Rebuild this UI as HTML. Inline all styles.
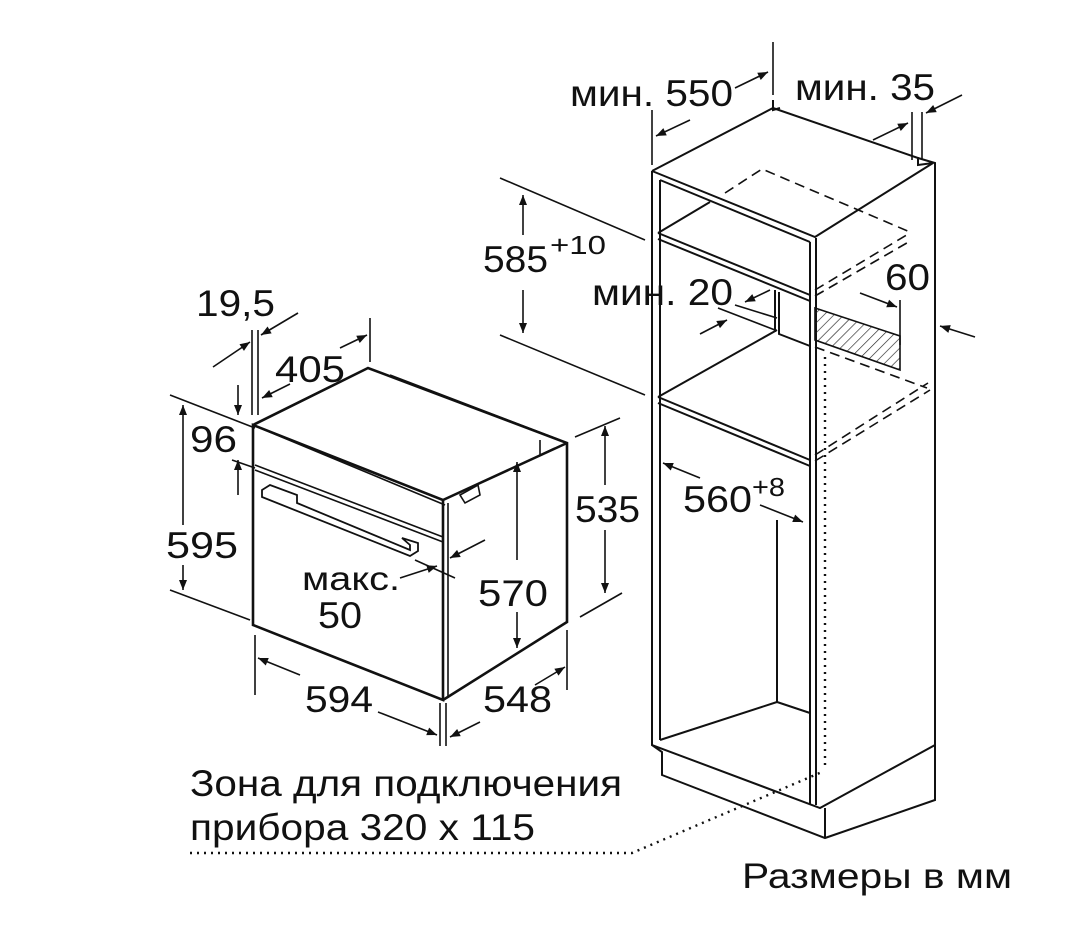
<!DOCTYPE html>
<html><head><meta charset="utf-8"><style>
html,body{margin:0;padding:0;background:#fff}
svg{display:block}
text{font-family:"Liberation Sans",sans-serif;fill:#111}
</style></head><body>
<svg width="1089" height="937" viewBox="0 0 1089 937" xmlns="http://www.w3.org/2000/svg">
<defs>
<marker id="a" viewBox="0 0 10 10" refX="10" refY="5" markerWidth="12" markerHeight="10" markerUnits="userSpaceOnUse" orient="auto"><path d="M0,1 L10,5 L0,9 z" fill="#111"/></marker>
<pattern id="h" width="7" height="7" patternUnits="userSpaceOnUse" patternTransform="rotate(45)"><line x1="0" y1="0" x2="0" y2="7" stroke="#222" stroke-width="1.3"/></pattern>
</defs>
<g stroke="#111" fill="none" stroke-width="1.6">
<g stroke-width="2.6">
<path d="M253,425 L443,500 L443,700 L253,625 Z"/>
<path d="M253,425 L368,368 L567,443 L567,622 L443,700"/>
<path d="M443,500 L567,443"/>
</g>
<path d="M260,428 L445,505"/>
<path d="M255,465 L443,537"/>
<path d="M255,470 L443,542"/>
<path d="M448,503 L448,698"/>
<path d="M390,375 L560,440"/>
<path d="M540,440 L540,455 L555,448"/>
<path d="M262,490 L270,485 L297,495 L297,503 L410,550 L410,545 L402,538 L418,543 L418,551 L410,556 L262,497 Z" stroke-width="1.8"/>
<path d="M460,495 L478,485 L480,495 L465,503 Z"/>
<path d="M170,395 L255,428"/><path d="M170,590 L250,620"/>
<path d="M183,525 L183,405" marker-end="url(#a)"/><path d="M183,565 L183,590" marker-end="url(#a)"/>
<path d="M238,385 L238,415" marker-end="url(#a)"/><path d="M238,495 L238,460" marker-end="url(#a)"/>
<path d="M232,460 L255,468"/>
<path d="M252,330 L252,415"/><path d="M258,330 L258,415"/>
<path d="M213,367 L250,342" marker-end="url(#a)"/><path d="M298,313 L261,335" marker-end="url(#a)"/>
<path d="M370,318 L370,362"/>
<path d="M340,348 L367,335" marker-end="url(#a)"/><path d="M290,384 L262,398" marker-end="url(#a)"/>
<path d="M575,437 L620,418"/><path d="M580,617 L622,593"/>
<path d="M605,485 L605,426" marker-end="url(#a)"/><path d="M605,530 L605,593" marker-end="url(#a)"/>
<path d="M517,560 L517,462" marker-end="url(#a)"/><path d="M517,612 L517,648" marker-end="url(#a)"/>
<path d="M255,635 L255,695"/><path d="M567,630 L567,690"/>
<path d="M440,703 L440,746"/><path d="M446,703 L446,746"/>
<path d="M300,675 L258,658" marker-end="url(#a)"/><path d="M378,712 L437,735" marker-end="url(#a)"/>
<path d="M535,685 L565,667" marker-end="url(#a)"/><path d="M480,722 L450,737" marker-end="url(#a)"/>
<path d="M485,540 L450,558" marker-end="url(#a)"/>
<path d="M415,560 L455,578"/>
<path d="M400,578 L437,566" marker-end="url(#a)"/>
<g stroke-width="2">
<path d="M652,171 L652,745 L820,808 L935,745 L935,163 L918,158"/>
<path d="M660,180 L660,740"/>
<path d="M652,171 L773,108 L918,158 L918,165 L933,163"/>
<path d="M652,171 L815,237 L933,163"/>
<path d="M660,180 L810,242"/>
<path d="M810,242 L810,805"/><path d="M816,238 L816,805"/>
<path d="M773,100 L773,110 L780,108"/>
<path d="M658,233 L810,295"/><path d="M658,239 L810,301"/>
<path d="M658,233 L710,202"/>
<path d="M658,397 L810,460"/><path d="M658,403 L810,466"/>
<path d="M658,397 L777,330"/>
<path d="M775,290 L775,332"/><path d="M779,292 L779,334 L810,346"/>
<path d="M777,520 L777,702 L810,713"/>
<path d="M660,740 L777,702"/>
<path d="M652,745 L662,752 L662,775 L825,838 L935,800 L935,745"/>
<path d="M825,808 L825,838"/>
</g>
<path d="M725,193 L762,169 L910,232" stroke-dasharray="10,6"/>
<path d="M815,290 L910,233" stroke-dasharray="10,6"/>
<path d="M815,296 L912,240" stroke-dasharray="10,6"/>
<path d="M815,347 L927,388" stroke-dasharray="10,6"/>
<path d="M815,455 L928,383" stroke-dasharray="10,6"/>
<path d="M815,461 L930,390" stroke-dasharray="10,6"/>
<path d="M815,308 L900,336 L900,370 L815,340 Z" fill="url(#h)"/>
<path d="M825,357 L825,770" stroke-dasharray="2,5" stroke-width="2.4"/>
<path d="M190,853 L632,853 L822,772" stroke-dasharray="2,5" stroke-width="2.4"/>
<path d="M773,42 L773,95"/><path d="M652,110 L652,165"/>
<path d="M735,88 L768,72" marker-end="url(#a)"/><path d="M690,120 L656,136" marker-end="url(#a)"/>
<path d="M912,112 L912,160"/><path d="M922,112 L922,160"/>
<path d="M873,140 L908,123" marker-end="url(#a)"/><path d="M962,95 L926,113" marker-end="url(#a)"/>
<path d="M500,178 L645,240"/><path d="M500,335 L645,395"/>
<path d="M523,235 L523,195" marker-end="url(#a)"/><path d="M523,290 L523,333" marker-end="url(#a)"/>
<path d="M735,305 L777,318"/><path d="M718,308 L775,330"/>
<path d="M770,290 L745,302" marker-end="url(#a)"/><path d="M700,334 L727,320" marker-end="url(#a)"/>
<path d="M860,293 L897,307" marker-end="url(#a)"/><path d="M900,300 L900,345"/>
<path d="M975,337 L940,326" marker-end="url(#a)"/>
<path d="M700,478 L663,463" marker-end="url(#a)"/><path d="M760,505 L803,522" marker-end="url(#a)"/>
</g>
<g font-size="37" lengthAdjust="spacingAndGlyphs">
<text x="196" y="316" textLength="79" lengthAdjust="spacingAndGlyphs">19,5</text>
<text x="275" y="382" textLength="70" lengthAdjust="spacingAndGlyphs">405</text>
<text x="190" y="452" textLength="47" lengthAdjust="spacingAndGlyphs">96</text>
<text x="166" y="558" textLength="72" lengthAdjust="spacingAndGlyphs">595</text>
<text x="302" y="590" font-size="33" textLength="98" lengthAdjust="spacingAndGlyphs">макс.</text>
<text x="318" y="628" textLength="44" lengthAdjust="spacingAndGlyphs">50</text>
<text x="478" y="606" textLength="70" lengthAdjust="spacingAndGlyphs">570</text>
<text x="575" y="522" textLength="65" lengthAdjust="spacingAndGlyphs">535</text>
<text x="305" y="712" textLength="68" lengthAdjust="spacingAndGlyphs">594</text>
<text x="483" y="712" textLength="69" lengthAdjust="spacingAndGlyphs">548</text>
<text x="570" y="106" textLength="163" lengthAdjust="spacingAndGlyphs">мин. 550</text>
<text x="795" y="100" textLength="140" lengthAdjust="spacingAndGlyphs">мин. 35</text>
<text x="483" y="272" textLength="65" lengthAdjust="spacingAndGlyphs">585</text><text x="550" y="254" font-size="26" textLength="56" lengthAdjust="spacingAndGlyphs">+10</text>
<text x="592" y="305" textLength="141" lengthAdjust="spacingAndGlyphs">мин. 20</text>
<text x="885" y="290" textLength="45" lengthAdjust="spacingAndGlyphs">60</text>
<text x="683" y="512" textLength="69" lengthAdjust="spacingAndGlyphs">560</text><text x="752" y="496" font-size="26" textLength="33" lengthAdjust="spacingAndGlyphs">+8</text>
<text x="190" y="796" textLength="432" lengthAdjust="spacingAndGlyphs">Зона для подключения</text>
<text x="190" y="840" textLength="345" lengthAdjust="spacingAndGlyphs">прибора 320 x 115</text>
<text x="742" y="888" font-size="35" textLength="270" lengthAdjust="spacingAndGlyphs">Размеры в мм</text>
</g>
</svg>
</body></html>
